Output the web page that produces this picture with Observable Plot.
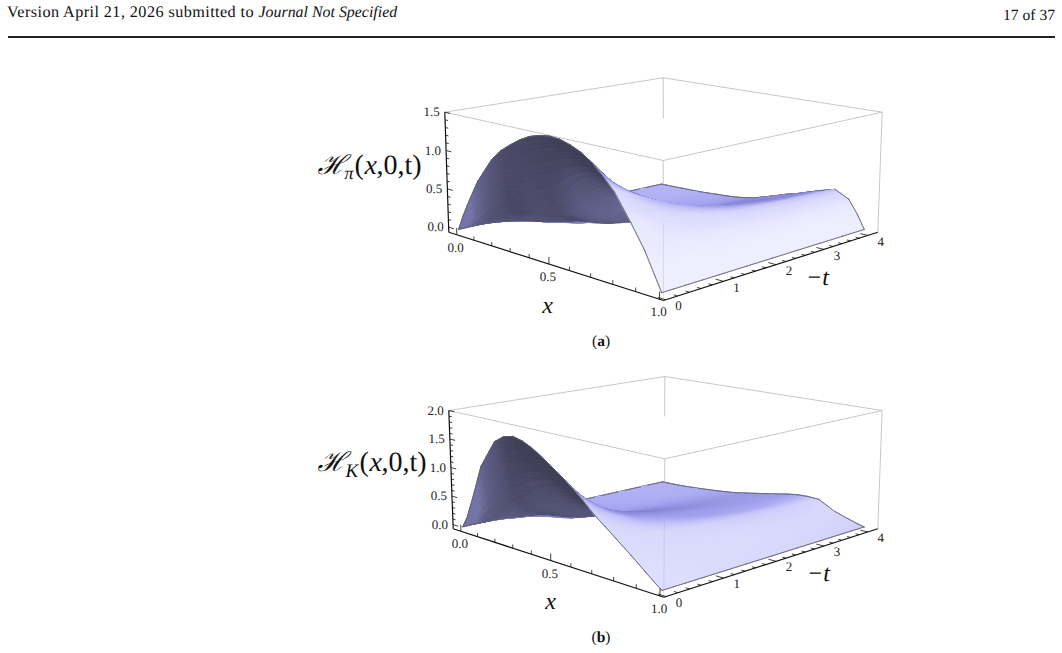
<!DOCTYPE html>
<html><head><meta charset="utf-8">
<script src="https://cdn.jsdelivr.net/npm/d3@7"></script>
<script src="https://cdn.jsdelivr.net/npm/@observablehq/plot@0.6"></script>
<style>
html,body{margin:0;padding:0;background:#fff;overflow:hidden}
body{width:1062px;height:653px;font-family:"Liberation Serif",serif;color:#111;text-rendering:geometricPrecision}
#head{position:relative;height:36px;border-bottom:2px solid #222;box-sizing:content-box;width:1047px;margin-left:8px}
#head .l{position:absolute;left:-1px;top:3px;font-size:16.2px;letter-spacing:.43px;white-space:nowrap}
#head .l i{font-size:15.9px;letter-spacing:0}
#head .r{position:absolute;right:0;top:7px;font-size:15.6px;white-space:nowrap}
.cap{height:22px;line-height:24px;font-size:15.5px;width:1062px;position:relative}
.cap span{position:absolute;left:601px;transform:translateX(-50%)}
svg{display:block;text-rendering:geometricPrecision;opacity:.999}
</style></head><body>
<div id="head"><span class="l">Version April 21, 2026 submitted to <i>Journal Not Specified</i></span><span class="r">17 of 37</span></div>
<div id="a"></div><div class="cap"><span>(<b>a</b>)</span></div>
<div id="b"></div><div class="cap"><span>(<b>b</b>)</span></div>
<script>
// Measured grid of the surface
const xGrid=[0,.03,.07,.12,.2,.25,.3,.35,.4,.45,.5,.55,.6,.65,.7,.75,.8,.87,.93,.97,1];
const tGrid=[0,.2,.4,.7,1,1.5,2,2.5,3,3.5,4];
// H_pi(x,0,t): one row per x, one column per t
const hPi=[
[0,0,0,0,0,0,0,0,0,0,0],
[.20,.05,.03,.02,.012,.008,.005,.004,.003,.002,.002],
[.43,.11,.07,.04,.025,.015,.01,.008,.006,.005,.004],
[.70,.20,.12,.07,.045,.03,.02,.015,.012,.01,.008],
[1.02,.33,.21,.12,.07,.045,.03,.025,.02,.015,.012],
[1.16,.37,.25,.15,.09,.06,.045,.035,.028,.022,.02],
[1.26,.42,.31,.20,.12,.08,.06,.05,.04,.03,.03],
[1.35,.50,.35,.24,.15,.10,.08,.065,.05,.042,.038],
[1.42,.60,.39,.28,.19,.13,.10,.08,.065,.055,.05],
[1.46,.67,.43,.30,.22,.155,.12,.10,.085,.075,.07],
[1.48,.75,.48,.33,.25,.18,.14,.135,.12,.11,.10],
[1.47,.88,.59,.42,.32,.24,.19,.18,.165,.155,.145],
[1.43,1.0,.70,.52,.41,.32,.26,.24,.22,.21,.19],
[1.37,1.06,.80,.62,.50,.39,.32,.28,.26,.25,.24],
[1.28,1.10,.90,.76,.65,.51,.42,.36,.32,.30,.28],
[1.15,1.03,.92,.79,.68,.55,.46,.41,.37,.35,.33],
[1.0,.95,.88,.78,.69,.58,.50,.45,.41,.39,.38],
[.70,.69,.67,.63,.58,.53,.49,.47,.46,.45,.44],
[.42,.41,.40,.39,.38,.37,.37,.36,.36,.36,.35],
[.18,.18,.18,.18,.18,.18,.18,.18,.18,.18,.17],
[0,0,0,0,0,0,0,0,0,0,0]];
// H_K(x,0,t)
const hK=[
[0,0,0,0,0,0,0,0,0,0,0],
[.2,.05,.04,.025,.015,.01,.005,.004,.003,.002,.002],
[.6,.15,.11,.06,.04,.025,.02,.015,.01,.01,.005],
[1.15,.25,.2,.13,.07,.045,.03,.025,.02,.015,.01],
[1.63,.55,.35,.25,.13,.08,.06,.045,.035,.03,.03],
[1.75,.65,.41,.29,.16,.10,.075,.055,.045,.04,.045],
[1.79,.75,.47,.33,.2,.13,.09,.07,.06,.055,.06],
[1.75,.88,.55,.39,.26,.18,.13,.10,.085,.08,.08],
[1.67,1.0,.64,.47,.33,.24,.18,.14,.12,.105,.10],
[1.56,1.06,.72,.54,.40,.30,.23,.19,.16,.145,.135],
[1.44,1.1,.80,.61,.47,.36,.28,.23,.20,.18,.17],
[1.31,1.05,.80,.63,.52,.41,.33,.28,.24,.22,.205],
[1.18,.98,.80,.66,.56,.45,.37,.31,.27,.25,.24],
[1.03,.92,.80,.66,.57,.46,.38,.33,.30,.28,.28],
[.86,.80,.74,.64,.56,.46,.39,.35,.32,.31,.31],
[.72,.68,.64,.58,.52,.45,.40,.36,.33,.32,.32],
[.58,.56,.53,.50,.46,.42,.38,.35,.33,.31,.31],
[.38,.37,.35,.32,.30,.27,.25,.23,.2,.18,.16],
[.2,.2,.19,.18,.16,.14,.12,.11,.1,.09,.08],
[.08,.08,.08,.07,.06,.05,.05,.04,.04,.03,.03],
[0,0,0,0,0,0,0,0,0,0,0]];
const xTicks=[0,.1,.2,.3,.4,.5,.6,.7,.8,.9,1];
const xLabels=[0,.5,1];
const tTicks=[0,.2,.4,.6,.8,1,1.2,1.4,1.6,1.8,2,2.2,2.4,2.6,2.8,3,3.2,3.4,3.6,3.8,4];
const tLabels=[0,1,2,3,4];
const hTicksPi=[0,.1,.2,.3,.4,.5,.6,.7,.8,.9,1,1.1,1.2,1.3,1.4,1.5];
const hLabelsPi=[0,.5,1,1.5];
const hTicksK=[0,.1,.2,.3,.4,.5,.6,.7,.8,.9,1,1.1,1.2,1.3,1.4,1.5,1.6,1.7,1.8,1.9,2];
const hLabelsK=[0,.5,1,1.5,2];

function quadMap(p0,p1,p2,p3){
  const dx1=p1[0]-p2[0],dx2=p3[0]-p2[0],sx=p0[0]-p1[0]+p2[0]-p3[0];
  const dy1=p1[1]-p2[1],dy2=p3[1]-p2[1],sy=p0[1]-p1[1]+p2[1]-p3[1];
  const D=dx1*dy2-dx2*dy1,g=(sx*dy2-dx2*sy)/D,h=(dx1*sy-sx*dy1)/D;
  const a=p1[0]-p0[0]+g*p1[0],b=p3[0]-p0[0]+h*p3[0],c=p0[0];
  const d=p1[1]-p0[1]+g*p1[1],e=p3[1]-p0[1]+h*p3[1],f=p0[1];
  return (u,v)=>{const q=g*u+h*v+1;return [(a*u+b*v+c)/q,(d*u+e*v+f)/q];};
}
const topRamp=d3.scaleLinear().domain([0,.12,.25,.35,.5,.62,.73,1]).range(["#7a7ab8","#8a8ad8","#a4a4f0","#c0c0f8","#d8d8fc","#dedeff","#eeeeff","#f2f2ff"]).clamp(true);
const underRamp=d3.scaleLinear().domain([0,.12,.45]).range(["#3f3f58","#4c4c6a","#7474a8"]).clamp(true);

function panel(o){
  const bot=quadMap(...o.bottom),top=quadMap(...o.top);
  const pt=(u,v,w)=>{const B=bot(u,v),T=top(u,v);return [B[0]+(T[0]-B[0])*w,B[1]+(T[1]-B[1])*w];};
  const ux=x=>.045+.94*x, vt=t=>.008+.936*t/4, wh=h=>(h+o.h0)/(o.hMax+o.h0);
  const proj=(x,t,h)=>pt(ux(x),vt(t),wh(h));
  const H=o.H, nx=xGrid.length, nt=tGrid.length;
  const Z=h=>.4*wh(h);
  // vertex normals (physical box 1 : 1 : 0.4)
  const norm=[];
  for(let i=0;i<nx;i++){norm.push([]);for(let j=0;j<nt;j++){
    const i0=Math.max(0,i-1),i1=Math.min(nx-1,i+1),j0=Math.max(0,j-1),j1=Math.min(nt-1,j+1);
    const dU=(Z(H[i1][j])-Z(H[i0][j]))/(ux(xGrid[i1])-ux(xGrid[i0]));
    const dV=(Z(H[i][j1])-Z(H[i][j0]))/(vt(tGrid[j1])-vt(tGrid[j0]));
    norm[i].push([-dU,-dV,1]);
  }}
  const view=[.67,-.67,.32];
  const shade=n=>{
    const L=Math.hypot(n[0],n[1],n[2]),f=(n[0]*view[0]+n[1]*view[1]+n[2]*view[2])/L;
    return f>=0?topRamp(f):underRamp(Math.max(0,-n[0]/(Math.hypot(n[0],n[1])+1)));
  };
  const lerp=(a,b,s)=>a+(b-a)*s;
  const bil=(a,b,c,d,s,r)=>lerp(lerp(a,b,s),lerp(d,c,s),r);
  const items=[];let id=0;
  const S=5;
  for(let i=0;i<nx-1;i++)for(let j=0;j<nt-1;j++){
    const X=s=>lerp(xGrid[i],xGrid[i+1],s),T=r=>lerp(tGrid[j],tGrid[j+1],r);
    const hAt=(s,r)=>bil(H[i][j],H[i+1][j],H[i+1][j+1],H[i][j+1],s,r);
    for(let a=0;a<S;a++)for(let b=0;b<S;b++){
      const s0=a/S,s1=(a+1)/S,r0=b/S,r1=(b+1)/S,sm=(a+.5)/S,rm=(b+.5)/S;
      const n=[0,1,2].map(k=>bil(norm[i][j][k],norm[i+1][j][k],norm[i+1][j+1][k],norm[i][j+1][k],sm,rm));
      const col=shade(n);
      const key=ux(X(sm))-vt(T(rm));
      items.push({key,id:++id,fill:col,stroke:col,sw:1,pts:[[s0,r0],[s1,r0],[s1,r1],[s0,r1]].map(([s,r])=>proj(X(s),T(r),hAt(s,r)))});
    }
  }
  // surface boundary: the two front edges go on top, the two back edges in depth order
  const edge=(i0,j0,i1,j1,front)=>{
    const xa=xGrid[i0],xb=xGrid[i1],ta=tGrid[j0],tb=tGrid[j1];
    const k=(ux(xa)+ux(xb))/2-(vt(ta)+vt(tb))/2;
    items.push({key:front?10:k+.05,id:++id,fill:"none",stroke:"#5f5f70",sw:.6,pts:[proj(xa,ta,H[i0][j0]),proj(xb,tb,H[i1][j1])]});
  };
  for(let i=0;i<nx-1;i++){edge(i,0,i+1,0,true);edge(i,nt-1,i+1,nt-1,false);}
  for(let j=0;j<nt-1;j++){edge(0,j,0,j+1,false);edge(nx-1,j,nx-1,j+1,true);}
  items.sort((a,b)=>a.key-b.key);
  const rows=items.flatMap(it=>it.pts.map(p=>({x:p[0],y:p[1],z:it.id,fill:it.fill,stroke:it.stroke,sw:it.sw})));

  const boxEdges=[[[0,0,1],[1,0,1]],[[1,0,1],[1,1,1]],[[1,1,1],[0,1,1]],[[0,1,1],[0,0,1]],[[0,1,1],[0,1,.62]],[[1,1,1],[1,1,0]],[[1,0,1],[1,0,.55]]];
  const link=(arr,opts)=>Plot.link(arr,{x1:d=>d[0][0],y1:d=>d[0][1],x2:d=>d[1][0],y2:d=>d[1][1],...opts});
  const seg=e=>[pt(...e[0]),pt(...e[1])];
  const serif={fontFamily:"Liberation Serif, serif"};
  const lab={...serif,fontSize:13,fill:"#222"};
  const fmt=d3.format(".1f");
  const xA=xTicks.map(x=>{const u=ux(x),L=xLabels.includes(x);return [pt(u,0,0),pt(u,0,L?.055:.03)];});
  const tA=tTicks.map(t=>{const v=vt(t),L=tLabels.includes(t);return [pt(1,v,0),pt(L?.97:.985,v,0)];});
  const hA=o.hTicks.map(h=>{const L=o.hLabels.includes(h);return [pt(0,0,wh(h)),pt(L?.03:.016,0,wh(h))];});
  const tx=(text,x,y,extra)=>Plot.text([text],{x:()=>x,y:()=>y,text:d=>d,...serif,fill:"#111",...extra});
  const y0=o.yTop;
  return Plot.plot({
    width:1062,height:o.h,margin:0,
    x:{domain:[0,1062],range:[0,1062],axis:null},
    y:{domain:[y0,y0+o.h],range:[0,o.h],axis:null},
    color:{type:"identity"},
    marks:[
      link(boxEdges.map(seg),{stroke:"#b9b9b9",strokeWidth:.8}),
      Plot.line(rows,{x:"x",y:"y",z:"z",fill:"fill",stroke:"stroke",strokeWidth:"sw",curve:"linear-closed",strokeLinejoin:"round"}),
      link([seg([[1,0,.55],[1,0,0]])],{stroke:"#777",strokeOpacity:.22,strokeWidth:.8}),
      link([seg([[0,0,0],[0,0,1]]),seg([[0,0,0],[1,0,0]]),seg([[1,0,0],[1,1,0]])],{stroke:"#111",strokeWidth:1.2}),
      link(xA.concat(tA,hA),{stroke:"#111",strokeWidth:.8}),
      Plot.text(xLabels,{x:d=>proj(d,0,0)[0],y:d=>pt(ux(d),0,0)[1],text:d=>fmt(d),dx:-3,dy:13,...lab}),
      Plot.text(tLabels,{x:d=>pt(1,vt(d),0)[0],y:d=>pt(1,vt(d),0)[1],text:d=>String(d),dx:13,dy:6,...lab}),
      Plot.text(o.hLabels,{x:d=>pt(0,0,wh(d))[0],y:d=>pt(0,0,wh(d))[1],text:d=>fmt(d),dx:-5,dy:0,textAnchor:"end",...lab}),
      tx("x",o.xTitle[0],o.xTitle[1],{fontSize:24,fontStyle:"italic"}),
      tx("−t",o.tTitle[0],o.tTitle[1],{fontSize:24,fontStyle:"italic"}),
      tx("ℋ",o.hl[0],o.hl[1],{fontSize:27,textAnchor:"start",fontFamily:"DejaVu Serif, serif",fontStyle:"italic"}),
      tx(o.sub,o.hl[0]+o.subDx,o.hl[1]+8,{fontSize:o.subSize,textAnchor:"start",fontStyle:"italic"}),
      tx("(",o.hl[0]+o.parDx,o.hl[1],{fontSize:28,textAnchor:"start"}),
      tx("x",o.hl[0]+o.parDx+10,o.hl[1],{fontSize:28,textAnchor:"start",fontStyle:"italic"}),
      tx(",0,t)",o.hl[0]+o.parDx+22,o.hl[1],{fontSize:28,textAnchor:"start"})
    ]
  });
}
document.getElementById("a").append(panel({
  H:hPi,h0:.066,hMax:1.5,hTicks:hTicksPi,hLabels:hLabelsPi,yTop:38,h:292,
  bottom:[[448.3,231.7],[663,300],[877.3,231.7],[663,184]],
  top:[[444.3,111.7],[662.7,160],[881.7,111.7],[662.7,77.3]],
  xTitle:[547,305],tTitle:[817,277],hl:[317,165],sub:"π",subSize:18,subDx:27,parDx:37
}));
document.getElementById("b").append(panel({
  H:hK,h0:.073,hMax:2,hTicks:hTicksK,hLabels:hLabelsK,yTop:352,h:274,
  bottom:[[452.7,528.3],[663.3,596.7],[877.3,528.3],[664,481]],
  top:[[448.3,410],[664.3,458.3],[881.7,410],[664.3,376]],
  xTitle:[550,601],tTitle:[818,573],hl:[317,462],sub:"K",subSize:19,subDx:28,parDx:42
}));
</script>
</body></html>
